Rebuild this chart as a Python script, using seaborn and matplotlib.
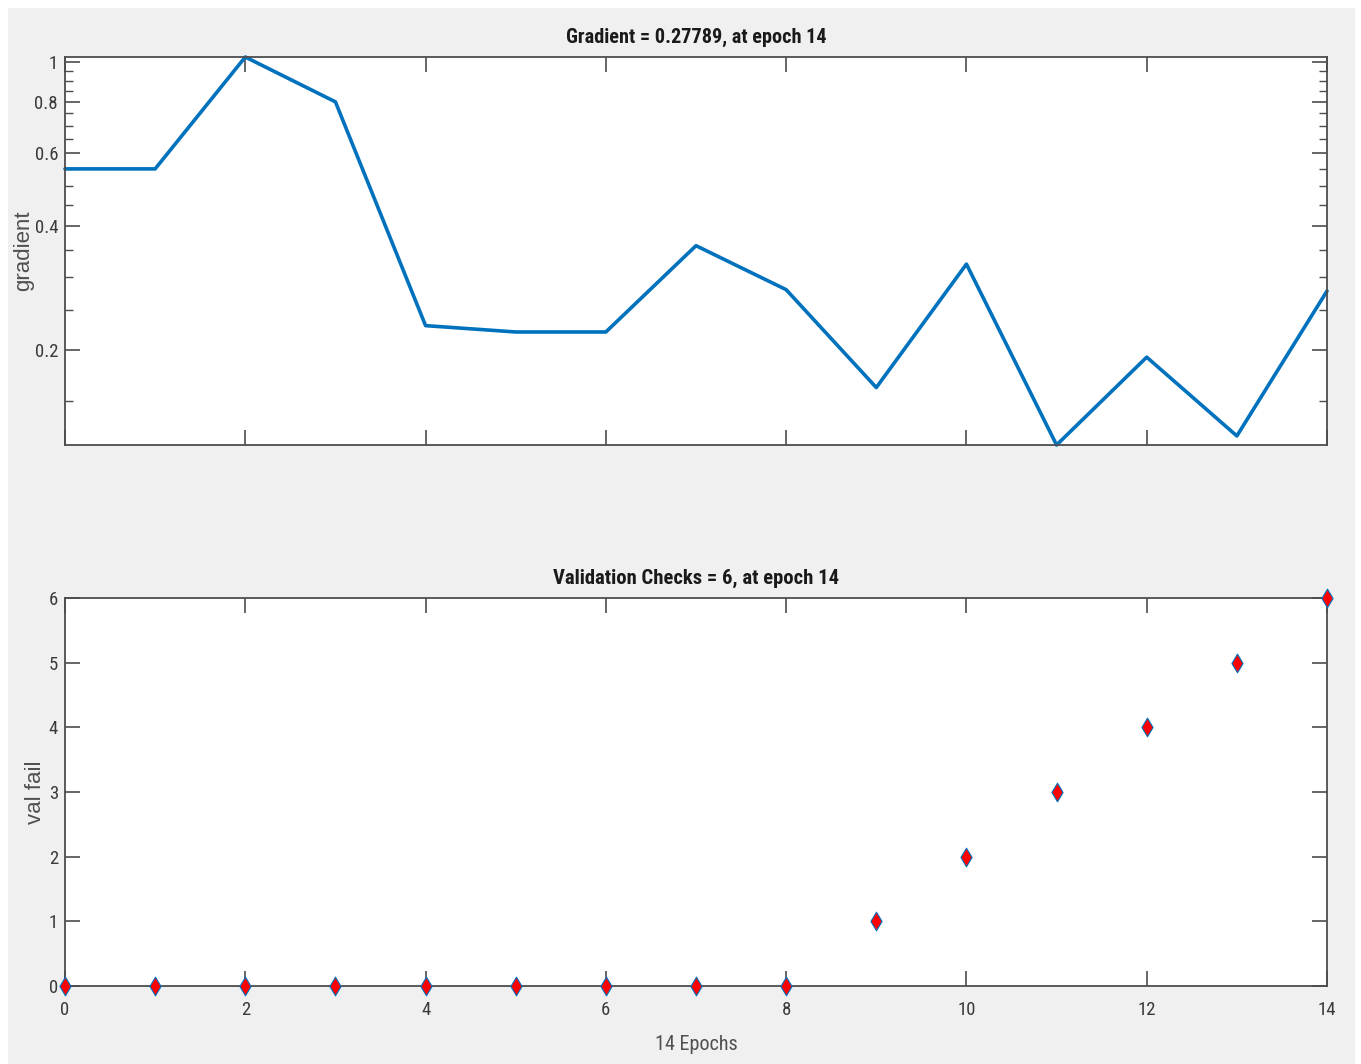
import numpy as np
import pandas as pd
import matplotlib
matplotlib.use("Agg")
import matplotlib.pyplot as plt
import matplotlib.ticker as mticker
from matplotlib import font_manager as fm
from matplotlib.patches import Rectangle
import seaborn as sns

# ---- data ----
epochs = list(range(0, 15))
gradient = [0.55, 0.55, 1.028, 0.80, 0.229, 0.221, 0.221, 0.358, 0.280,
            0.162, 0.323, 0.1175, 0.192, 0.1236, 0.27789]
val_fail = [0, 0, 0, 0, 0, 0, 0, 0, 0, 1, 2, 3, 4, 5, 6]
grad_ticks = [0.2, 0.4, 0.6, 0.8, 1]
grad_tick_labels = ["0.2", "0.4", "0.6", "0.8", "1"]
x_ticks = [0, 2, 4, 6, 8, 10, 12, 14]
val_ticks = [0, 1, 2, 3, 4, 5, 6]
title_top = "Gradient = 0.27789, at epoch 14"
title_bot = "Validation Checks = 6, at epoch 14"

sns.set_theme(style="white")
plt.rcParams["font.family"] = ["Liberation Sans", "DejaVu Sans"]


def narrow_font(bold):
    """Pick an installed condensed/narrow sans font, if any."""
    prefs = ["Liberation Sans Narrow", "Roboto Condensed", "Open Sans Condensed",
             "DejaVu Sans Condensed", "Noto Sans Condensed", "DejaVu Sans"]
    found = []
    for f in fm.fontManager.ttflist:
        nm = f.name
        st = str(f.stretch).lower()
        cond = ("narrow" in nm.lower() or "condensed" in nm.lower()
                or "condensed" in st or "narrow" in f.fname.lower()
                or "condensed" in f.fname.lower())
        if not cond or f.style != "normal":
            continue
        w = f.weight if isinstance(f.weight, int) else (700 if "bold" in str(f.weight) else 400)
        if bold != (w >= 600):
            continue
        if "semi" in f.fname.lower() or "extra" in f.fname.lower() or "light" in f.fname.lower():
            continue
        rank = next((i for i, p in enumerate(prefs) if nm.startswith(p)), len(prefs))
        found.append((rank, f.fname))
    if found:
        found.sort()
        return fm.FontProperties(fname=found[0][1])
    return fm.FontProperties(family=["Liberation Sans", "DejaVu Sans"],
                             weight="bold" if bold else "normal")


fp_reg = narrow_font(False)
fp_bold = narrow_font(True)

W, H = 1361, 1064
fig = plt.figure(figsize=(W / 100, H / 100), dpi=100, facecolor="white")
fig.patches.append(Rectangle((8 / W, 0), (1355 - 8) / W, 1 - 8 / H,
                             transform=fig.transFigure, facecolor="#f0f0f0",
                             edgecolor="none", zorder=-10))

axc = "#4d4d4d"
txtc = "#3a3a3a"
lblc = "#505050"
line_c = "#0072BD"


def fr(x0, y0, x1, y1):
    return [x0 / W, 1 - y1 / H, (x1 - x0) / W, (y1 - y0) / H]


ax1 = fig.add_axes(fr(65, 57, 1327, 445))
ax2 = fig.add_axes(fr(65, 598, 1327, 986))

df1 = pd.DataFrame({"epoch": epochs, "gradient": gradient})
df2 = pd.DataFrame({"epoch": epochs, "val_fail": val_fail})

sns.lineplot(data=df1, x="epoch", y="gradient", ax=ax1, color=line_c,
             linewidth=2.6, clip_on=False)
ax1.set_yscale("log")
ax1.set_xlim(0, 14)
ax1.set_ylim(min(gradient), max(gradient))
ax1.set_yticks(grad_ticks)
ax1.set_yticklabels(grad_tick_labels)
minors = [round(v, 2) for v in np.arange(0.15, 1.0001, 0.05)
          if all(abs(v - t) > 1e-6 for t in grad_ticks)]
ax1.yaxis.set_minor_locator(mticker.FixedLocator(minors))
ax1.yaxis.set_minor_formatter(mticker.NullFormatter())
ax1.set_xticks(x_ticks)
ax1.set_xticklabels([])
ax1.set_xlabel("")
ax1.set_ylabel("gradient", fontsize=16, color=lblc, labelpad=0)
t1 = ax1.set_title(title_top, color="#1a1a1a", pad=10.5)
t1.set_fontproperties(fp_bold)
t1.set_fontsize(14.6)

sns.scatterplot(data=df2, x="epoch", y="val_fail", ax=ax2, marker="d",
                s=90, color="red", edgecolor=line_c, linewidth=0.8,
                clip_on=False, zorder=5)
ax2.set_xlim(0, 14)
ax2.set_ylim(0, 6)
ax2.set_xticks(x_ticks)
ax2.set_yticks(val_ticks)
xl = ax2.set_xlabel("14 Epochs", color=lblc, labelpad=11)
xl.set_fontproperties(fp_reg)
xl.set_fontsize(14.5)
ax2.set_ylabel("val fail", fontsize=16, color=lblc, labelpad=2)
t2 = ax2.set_title(title_bot, color="#1a1a1a", pad=10.5)
t2.set_fontproperties(fp_bold)
t2.set_fontsize(14.9)

for ax in (ax1, ax2):
    ax.set_facecolor("white")
    for sp in ax.spines.values():
        sp.set_color(axc)
        sp.set_linewidth(1.3)
        sp.set_visible(True)
    ax.tick_params(which="major", direction="in", length=11, width=1.2,
                   color=axc, labelcolor=txtc,
                   top=True, right=True, bottom=True, left=True)
    ax.tick_params(which="minor", direction="in", length=6, width=1.0,
                   color=axc, left=True, right=True)
    ax.tick_params(axis="x", pad=11)
    ax.tick_params(axis="y", pad=5)
    for lab in ax.get_xticklabels() + ax.get_yticklabels():
        lab.set_fontproperties(fp_reg)
        lab.set_fontsize(13.5)

fig.savefig("out.png", dpi=100, facecolor=fig.get_facecolor())
